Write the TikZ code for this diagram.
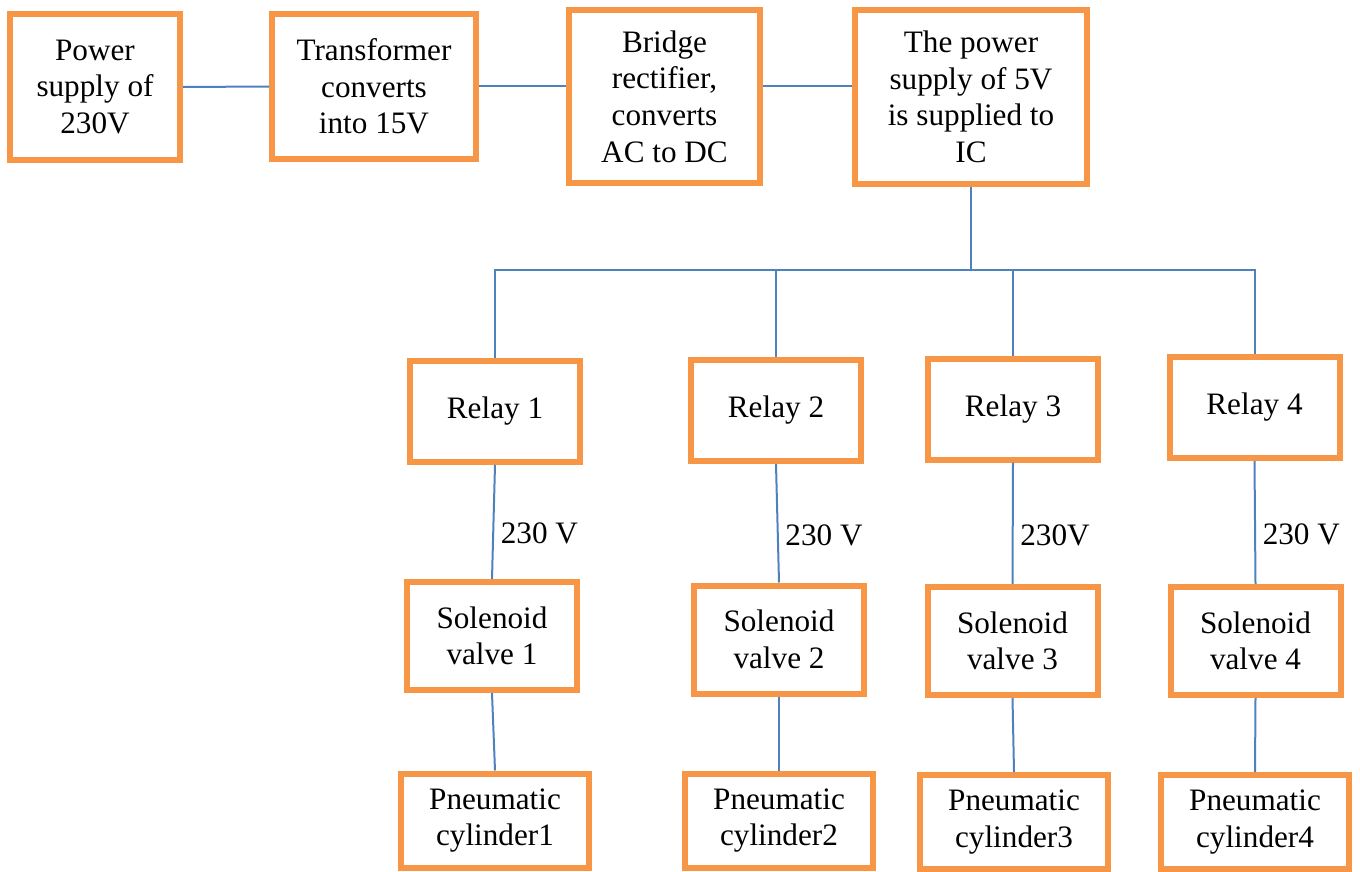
\documentclass[tikz,border=0pt]{standalone}
\usepackage{fontspec}
\setmainfont{Liberation Serif}
\definecolor{boxorange}{HTML}{F79646}
\definecolor{wireblue}{HTML}{4F81BD}
\begin{document}
\begin{tikzpicture}[x=0.5pt, y=-0.5pt,
    box/.style={draw=boxorange, line width=3pt, align=center, inner sep=0pt,
        font=\fontsize{15.6}{18.3}\selectfont},
    volt/.style={right, font=\fontsize{15.6}{18.3}\selectfont},
    wire/.style={draw=wireblue, line width=1pt}]
    \useasboundingbox (0,0) rectangle (1360,872);

    % supply chain along the top
    \node[box, minimum width=85pt, minimum height=73pt] (psu) at (95,87) {Power\\supply of\\230V};
    \node[box, minimum width=102pt, minimum height=72.5pt] (trans) at (374,86.5) {Transformer\\converts\\into 15V};
    \node[box, minimum width=95.5pt, minimum height=86.5pt] (bridge) at (664.5,96.5) {Bridge\\rectifier,\\converts\\AC to DC};
    \node[box, minimum width=116pt, minimum height=87pt] (ic) at (971,97) {The power\\supply of 5V\\is supplied to\\IC};

    \draw[wire] (psu.east) -- (trans.west);
    \draw[wire] (trans.east) -- (trans.east -| bridge.west);
    \draw[wire] (bridge.east |- trans.east) -- (trans.east -| ic.west);

    % four channels
    \foreach \i/\x/\y in {1/495/411.5, 2/776/410.5, 3/1013/409, 4/1254.5/407.5}
        \node[box, minimum width=85pt, minimum height=50.5pt] (relay\i) at (\x,\y) {Relay \i};
    \foreach \i/\x/\y in {1/492/636, 2/779/639.5, 3/1012.5/641, 4/1255.5/641}
        \node[box, minimum width=85pt, minimum height=54pt] (valve\i) at (\x,\y) {Solenoid\\valve \i};
    \foreach \i/\x/\y in {1/495/820.5, 2/779/820.5, 3/1014/822, 4/1255/822}
        \node[box, minimum width=94pt, minimum height=47pt] (cyl\i) at (\x,\y) {Pneumatic\\cylinder\i};

    % bus from the IC to the relays
    \coordinate (bus) at (971,270);
    \draw[wire] (ic.south) -- (bus);
    \draw[wire] (relay1.north) |- (bus) -| (relay4.north);
    \foreach \i in {2,3}
        \draw[wire] (relay\i.north) -- (relay\i.north |- bus);

    \foreach \i/\v in {1/230 V, 2/230 V, 3/230V, 4/230 V} {
        \draw[wire] (relay\i.south) -- node[volt, pos=0.6] {\v} (valve\i.north);
        \draw[wire] (valve\i.south) -- (cyl\i.north);
    }
\end{tikzpicture}
\end{document}
